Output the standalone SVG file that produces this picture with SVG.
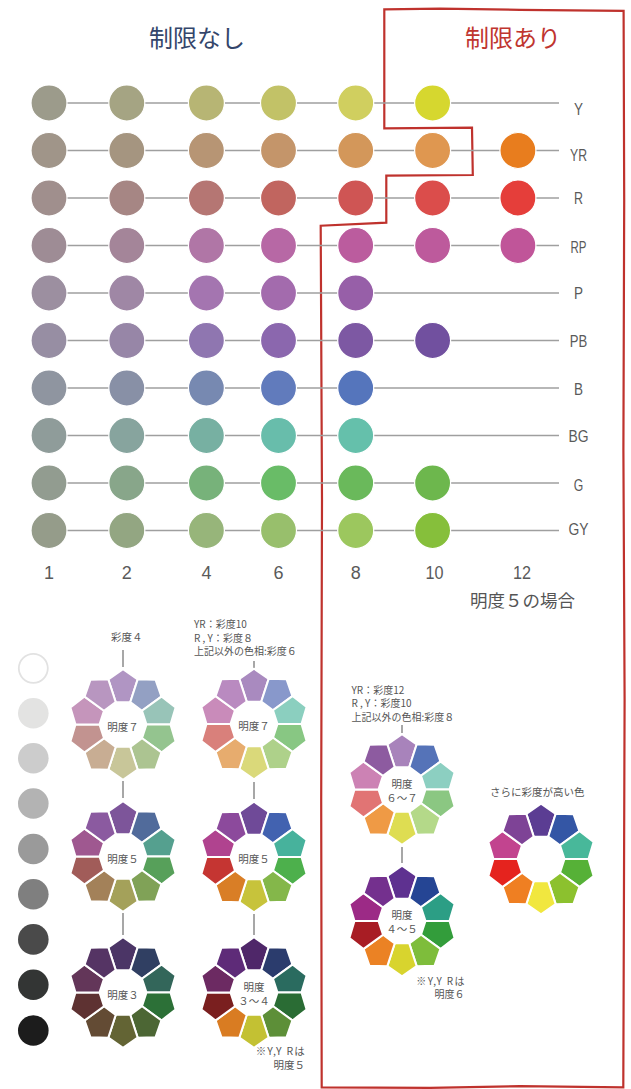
<svg xmlns="http://www.w3.org/2000/svg" width="631" height="1089" viewBox="0 0 631 1089">
<style>
.jp{font-family:"Noto Sans CJK JP","Noto Sans",sans-serif;fill:#555;}
.lat{font-family:"Liberation Sans","Noto Sans",sans-serif;fill:#5a5a5a;}
.row{font-size:17px;text-anchor:middle;}
.num{font-size:18px;text-anchor:middle;}
.sm{font-size:10.5px;}
.lbl{font-size:10.2px;}
.ctr{font-size:10.5px;text-anchor:middle;fill:#555;}
.gl{stroke:#9f9f9f;stroke-width:1.6;fill:none;}
.vl{stroke:#8a8a8a;stroke-width:1.5;fill:none;}
.dot{stroke:#fff;stroke-width:1.2;}
.pc{stroke:#fff;stroke-width:2;stroke-linejoin:miter;}
.gray{stroke:none;}
</style>
<defs>
<polygon id="pc" class="pc" points="0,-55.3 14.68,-45.18 7.26,-22.35 -7.26,-22.35 -14.68,-45.18"/>
</defs>
<rect width="631" height="1089" fill="#fff"/>

<!-- titles -->
<text id="title-none" x="149" y="47" font-family="'Noto Sans CJK JP',sans-serif" font-size="24" fill="#34466b">制限なし</text>
<text id="title-limit" x="465" y="47" font-family="'Noto Sans CJK JP',sans-serif" font-size="24" fill="#c0352f">制限あり</text>

<!-- red border -->
<path id="limit-border" d="M384.3,9.3 L440,8.6 L520,9.8 L623.6,10.8 L624.2,200 L623.4,450 L624.6,700 L623.3,1087.3 L520,1086.2 L430,1087.8 L321.7,1087.3 L321.2,800 L322,500 L320.7,225.7 L386.3,222.7 L386.3,175.7 L472.8,175 L472,127.7 L384.3,128.3 Z" fill="none" stroke="#bf322d" stroke-width="2.2" stroke-linejoin="miter"/>

<!-- connectors -->
<g id="connectors">
<line class="gl" x1="49" y1="103" x2="559" y2="103"/>
<line class="gl" x1="49" y1="150.5" x2="559" y2="150.5"/>
<line class="gl" x1="49" y1="198" x2="559" y2="198"/>
<line class="gl" x1="49" y1="245.5" x2="559" y2="245.5"/>
<line class="gl" x1="49" y1="293" x2="559" y2="293"/>
<line class="gl" x1="49" y1="340.5" x2="559" y2="340.5"/>
<line class="gl" x1="49" y1="388" x2="559" y2="388"/>
<line class="gl" x1="49" y1="435.5" x2="559" y2="435.5"/>
<line class="gl" x1="49" y1="483" x2="559" y2="483"/>
<line class="gl" x1="49" y1="530.5" x2="559" y2="530.5"/>
<line class="vl" x1="123" y1="650" x2="123" y2="667"/>
<line class="vl" x1="123" y1="781" x2="123" y2="798"/>
<line class="vl" x1="123" y1="913" x2="123" y2="935"/>
<line class="vl" x1="254" y1="661" x2="254" y2="668"/>
<line class="vl" x1="254" y1="782" x2="254" y2="799"/>
<line class="vl" x1="254" y1="914" x2="254" y2="935"/>
<line class="vl" x1="402" y1="725" x2="402" y2="733"/>
<line class="vl" x1="402" y1="847" x2="402" y2="863"/>
</g>

<!-- grid circles -->
<g id="row-Y">
<circle class="dot" cx="49" cy="103" r="18" fill="#9c9b8b"/>
<circle class="dot" cx="126.8" cy="103" r="18" fill="#a5a483"/>
<circle class="dot" cx="206.4" cy="103" r="18" fill="#b7b574"/>
<circle class="dot" cx="278.5" cy="103" r="18" fill="#c2c267"/>
<circle class="dot" cx="355.7" cy="103" r="18" fill="#d0cf5f"/>
<circle class="dot" cx="432.6" cy="103" r="18" fill="#d6d72f"/>
</g>
<g id="row-YR">
<circle class="dot" cx="49" cy="150.5" r="18" fill="#a09589"/>
<circle class="dot" cx="126.8" cy="150.5" r="18" fill="#a59580"/>
<circle class="dot" cx="206.4" cy="150.5" r="18" fill="#b79574"/>
<circle class="dot" cx="278.5" cy="150.5" r="18" fill="#c4956a"/>
<circle class="dot" cx="355.7" cy="150.5" r="18" fill="#d3975a"/>
<circle class="dot" cx="432.6" cy="150.5" r="18" fill="#df9750"/>
<circle class="dot" cx="517.9" cy="150.5" r="18" fill="#e87d1e"/>
</g>
<g id="row-R">
<circle class="dot" cx="49" cy="198" r="18" fill="#a08f8d"/>
<circle class="dot" cx="126.8" cy="198" r="18" fill="#a68684"/>
<circle class="dot" cx="206.4" cy="198" r="18" fill="#b57673"/>
<circle class="dot" cx="278.5" cy="198" r="18" fill="#c1655f"/>
<circle class="dot" cx="355.7" cy="198" r="18" fill="#cf5554"/>
<circle class="dot" cx="432.6" cy="198" r="18" fill="#db4d4b"/>
<circle class="dot" cx="517.9" cy="198" r="18" fill="#e53e3a"/>
</g>
<g id="row-RP">
<circle class="dot" cx="49" cy="245.5" r="18" fill="#9e8c95"/>
<circle class="dot" cx="126.8" cy="245.5" r="18" fill="#a48599"/>
<circle class="dot" cx="206.4" cy="245.5" r="18" fill="#b076a6"/>
<circle class="dot" cx="278.5" cy="245.5" r="18" fill="#b768a5"/>
<circle class="dot" cx="355.7" cy="245.5" r="18" fill="#bb5c9e"/>
<circle class="dot" cx="432.6" cy="245.5" r="18" fill="#bd5a9c"/>
<circle class="dot" cx="517.9" cy="245.5" r="18" fill="#c05599"/>
</g>
<g id="row-P">
<circle class="dot" cx="49" cy="293" r="18" fill="#9c8fa0"/>
<circle class="dot" cx="126.8" cy="293" r="18" fill="#9f87a5"/>
<circle class="dot" cx="206.4" cy="293" r="18" fill="#a475b0"/>
<circle class="dot" cx="278.5" cy="293" r="18" fill="#a36bad"/>
<circle class="dot" cx="355.7" cy="293" r="18" fill="#975fa8"/>
</g>
<g id="row-PB">
<circle class="dot" cx="49" cy="340.5" r="18" fill="#978ea3"/>
<circle class="dot" cx="126.8" cy="340.5" r="18" fill="#9786a7"/>
<circle class="dot" cx="206.4" cy="340.5" r="18" fill="#8f76b0"/>
<circle class="dot" cx="278.5" cy="340.5" r="18" fill="#8b67ae"/>
<circle class="dot" cx="355.7" cy="340.5" r="18" fill="#7d58a3"/>
<circle class="dot" cx="432.6" cy="340.5" r="18" fill="#71509f"/>
</g>
<g id="row-B">
<circle class="dot" cx="49" cy="388" r="18" fill="#8f95a0"/>
<circle class="dot" cx="126.8" cy="388" r="18" fill="#8890a6"/>
<circle class="dot" cx="206.4" cy="388" r="18" fill="#7789b1"/>
<circle class="dot" cx="278.5" cy="388" r="18" fill="#617bbc"/>
<circle class="dot" cx="355.7" cy="388" r="18" fill="#5575bc"/>
</g>
<g id="row-BG">
<circle class="dot" cx="49" cy="435.5" r="18" fill="#8f9c9a"/>
<circle class="dot" cx="126.8" cy="435.5" r="18" fill="#87a49e"/>
<circle class="dot" cx="206.4" cy="435.5" r="18" fill="#77b0a2"/>
<circle class="dot" cx="278.5" cy="435.5" r="18" fill="#68bdab"/>
<circle class="dot" cx="355.7" cy="435.5" r="18" fill="#65c0ab"/>
</g>
<g id="row-G">
<circle class="dot" cx="49" cy="483" r="18" fill="#929c90"/>
<circle class="dot" cx="126.8" cy="483" r="18" fill="#88a68a"/>
<circle class="dot" cx="206.4" cy="483" r="18" fill="#77b27a"/>
<circle class="dot" cx="278.5" cy="483" r="18" fill="#69bc67"/>
<circle class="dot" cx="355.7" cy="483" r="18" fill="#6ab95b"/>
<circle class="dot" cx="432.6" cy="483" r="18" fill="#6db74d"/>
</g>
<g id="row-GY">
<circle class="dot" cx="49" cy="530.5" r="18" fill="#959c8a"/>
<circle class="dot" cx="126.8" cy="530.5" r="18" fill="#93a682"/>
<circle class="dot" cx="206.4" cy="530.5" r="18" fill="#97b57a"/>
<circle class="dot" cx="278.5" cy="530.5" r="18" fill="#98bf6c"/>
<circle class="dot" cx="355.7" cy="530.5" r="18" fill="#9cc75e"/>
<circle class="dot" cx="432.6" cy="530.5" r="18" fill="#86bf3b"/>
</g>

<!-- row labels -->
<g id="row-labels">
<text class="lat row" x="578.5" y="115" textLength="9" lengthAdjust="spacingAndGlyphs">Y</text>
<text class="lat row" x="578.5" y="160.5" textLength="17" lengthAdjust="spacingAndGlyphs">YR</text>
<text class="lat row" x="578.5" y="204" textLength="9" lengthAdjust="spacingAndGlyphs">R</text>
<text class="lat row" x="578.5" y="252.5" textLength="16" lengthAdjust="spacingAndGlyphs">RP</text>
<text class="lat row" x="578.5" y="299" textLength="9" lengthAdjust="spacingAndGlyphs">P</text>
<text class="lat row" x="578.5" y="346.5" textLength="17.5" lengthAdjust="spacingAndGlyphs">PB</text>
<text class="lat row" x="578.5" y="394.5" textLength="9" lengthAdjust="spacingAndGlyphs">B</text>
<text class="lat row" x="578.5" y="442" textLength="20" lengthAdjust="spacingAndGlyphs">BG</text>
<text class="lat row" x="578.5" y="490.5" textLength="9.5" lengthAdjust="spacingAndGlyphs">G</text>
<text class="lat row" x="578.5" y="535" textLength="20" lengthAdjust="spacingAndGlyphs">GY</text>
</g>
<g id="chroma-axis">
<text class="lat num" x="49" y="578.5">1</text>
<text class="lat num" x="126.8" y="578.5">2</text>
<text class="lat num" x="206.4" y="578.5">4</text>
<text class="lat num" x="278.5" y="578.5">6</text>
<text class="lat num" x="355.7" y="578.5">8</text>
<text class="lat num" x="434.6" y="578.5" textLength="18" lengthAdjust="spacingAndGlyphs">10</text>
<text class="lat num" x="522" y="578.5" textLength="18" lengthAdjust="spacingAndGlyphs">12</text>
<text class="jp" x="470" y="607" font-size="17.5">明度５の場合</text>
</g>

<!-- gray scale -->
<g id="grayscale">
<circle cx="33.3" cy="668.3" r="14.5" fill="#fff" stroke="#e2e2e2" stroke-width="1.8"/>
<circle class="gray" cx="33.3" cy="713.3" r="15.3" fill="#e3e3e2"/>
<circle class="gray" cx="33.3" cy="758.3" r="15.3" fill="#cccccc"/>
<circle class="gray" cx="33.3" cy="803.5" r="15.3" fill="#b3b3b3"/>
<circle class="gray" cx="33.3" cy="849" r="15.3" fill="#9a9a9a"/>
<circle class="gray" cx="33.3" cy="894.2" r="15.3" fill="#7f7f7f"/>
<circle class="gray" cx="33.3" cy="939.4" r="15.3" fill="#4a4a4a"/>
<circle class="gray" cx="33.3" cy="984.7" r="15.3" fill="#333534"/>
<circle class="gray" cx="33.3" cy="1030.5" r="15.3" fill="#1c1c1c"/>
</g>

<!-- annotations -->
<text class="jp sm" x="111" y="641">彩度４</text>
<text class="jp" font-size="10" y="628"><tspan x="194">YR：彩度10</tspan><tspan x="194" dy="13.6">R , Y：彩度８</tspan><tspan x="194" dy="13.6">上記以外の色相:彩度６</tspan></text>
<text class="jp" font-size="10" y="693.5"><tspan x="351.5">YR：彩度12</tspan><tspan x="351.5" dy="13.6">R , Y：彩度10</tspan><tspan x="351.5" dy="13.6">上記以外の色相:彩度８</tspan></text>
<text class="jp sm" x="490" y="796">さらに彩度が高い色</text>
<text class="jp sm" y="1055" text-anchor="end"><tspan x="306" letter-spacing="1.2">※Y,Y Rは</tspan><tspan x="305" dy="13.6">明度５</tspan></text>
<text class="jp" font-size="10" y="984.5" text-anchor="end"><tspan x="466" letter-spacing="1.4">※Y,Y Rは</tspan><tspan x="464.5" dy="13.6">明度６</tspan></text>

<!-- wheels: order PB,B,BG,G,GY,Y,YR,R,RP,P clockwise from top -->
<g id="wheel-v7-c4" transform="translate(123,724.5)">
<use href="#pc" fill="#b095c3"/>
<use href="#pc" transform="rotate(36)" fill="#93a0c3"/>
<use href="#pc" transform="rotate(72)" fill="#98c4b8"/>
<use href="#pc" transform="rotate(108)" fill="#94c48f"/>
<use href="#pc" transform="rotate(144)" fill="#acc491"/>
<use href="#pc" transform="rotate(180)" fill="#c8c699"/>
<use href="#pc" transform="rotate(216)" fill="#c8ad93"/>
<use href="#pc" transform="rotate(252)" fill="#c29390"/>
<use href="#pc" transform="rotate(288)" fill="#c595bb"/>
<use href="#pc" transform="rotate(324)" fill="#b896c0"/>
<text class="jp ctr" x="0" y="6">明度７</text>
</g>
<g id="wheel-v7-c6" transform="translate(254,724)">
<use href="#pc" fill="#a98abf"/>
<use href="#pc" transform="rotate(36)" fill="#8898cb"/>
<use href="#pc" transform="rotate(72)" fill="#8bcfbf"/>
<use href="#pc" transform="rotate(108)" fill="#88c783"/>
<use href="#pc" transform="rotate(144)" fill="#aed18a"/>
<use href="#pc" transform="rotate(180)" fill="#dad97a"/>
<use href="#pc" transform="rotate(216)" fill="#e7ac6e"/>
<use href="#pc" transform="rotate(252)" fill="#d9807b"/>
<use href="#pc" transform="rotate(288)" fill="#c98bba"/>
<use href="#pc" transform="rotate(324)" fill="#b98ac0"/>
<text class="jp ctr" x="0" y="6">明度７</text>
</g>
<g id="wheel-v5-c4" transform="translate(123,856.5)">
<use href="#pc" fill="#7d559a"/>
<use href="#pc" transform="rotate(36)" fill="#516b9b"/>
<use href="#pc" transform="rotate(72)" fill="#55a08f"/>
<use href="#pc" transform="rotate(108)" fill="#57a05a"/>
<use href="#pc" transform="rotate(144)" fill="#80a257"/>
<use href="#pc" transform="rotate(180)" fill="#a4a15a"/>
<use href="#pc" transform="rotate(216)" fill="#a38159"/>
<use href="#pc" transform="rotate(252)" fill="#a15c59"/>
<use href="#pc" transform="rotate(288)" fill="#9f5890"/>
<use href="#pc" transform="rotate(324)" fill="#8b5aa0"/>
<text class="jp ctr" x="0" y="6">明度５</text>
</g>
<g id="wheel-v5-c6" transform="translate(254,857)">
<use href="#pc" fill="#6f4a98"/>
<use href="#pc" transform="rotate(36)" fill="#4262b0"/>
<use href="#pc" transform="rotate(72)" fill="#47b29c"/>
<use href="#pc" transform="rotate(108)" fill="#4db04c"/>
<use href="#pc" transform="rotate(144)" fill="#84b74a"/>
<use href="#pc" transform="rotate(180)" fill="#c7c33b"/>
<use href="#pc" transform="rotate(216)" fill="#d97e26"/>
<use href="#pc" transform="rotate(252)" fill="#c53532"/>
<use href="#pc" transform="rotate(288)" fill="#b0438f"/>
<use href="#pc" transform="rotate(324)" fill="#8c4a9c"/>
<text class="jp ctr" x="0" y="6">明度５</text>
</g>
<g id="wheel-v3-c4" transform="translate(123,992.5)">
<use href="#pc" fill="#4b3566"/>
<use href="#pc" transform="rotate(36)" fill="#303f62"/>
<use href="#pc" transform="rotate(72)" fill="#33665a"/>
<use href="#pc" transform="rotate(108)" fill="#2c7037"/>
<use href="#pc" transform="rotate(144)" fill="#4c6634"/>
<use href="#pc" transform="rotate(180)" fill="#636434"/>
<use href="#pc" transform="rotate(216)" fill="#634b34"/>
<use href="#pc" transform="rotate(252)" fill="#5e3232"/>
<use href="#pc" transform="rotate(288)" fill="#633659"/>
<use href="#pc" transform="rotate(324)" fill="#553464"/>
<text class="jp ctr" x="0" y="6">明度３</text>
</g>
<g id="wheel-v34-c6" transform="translate(254,992.5)">
<use href="#pc" fill="#4f2769"/>
<use href="#pc" transform="rotate(36)" fill="#2b3c6d"/>
<use href="#pc" transform="rotate(72)" fill="#2a6b5f"/>
<use href="#pc" transform="rotate(108)" fill="#2a6c34"/>
<use href="#pc" transform="rotate(144)" fill="#5d8f38"/>
<use href="#pc" transform="rotate(180)" fill="#c3c133"/>
<use href="#pc" transform="rotate(216)" fill="#d97c22"/>
<use href="#pc" transform="rotate(252)" fill="#7a1f1f"/>
<use href="#pc" transform="rotate(288)" fill="#6c2a62"/>
<use href="#pc" transform="rotate(324)" fill="#5e2b78"/>
<text class="jp ctr" y="-2"><tspan x="0">明度</tspan><tspan x="0" dy="14">３～４</tspan></text>
</g>
<g id="wheel-v67-c8" transform="translate(402,789.5)">
<use href="#pc" fill="#a883bb"/>
<use href="#pc" transform="rotate(36)" fill="#5573b8"/>
<use href="#pc" transform="rotate(72)" fill="#8ccfc1"/>
<use href="#pc" transform="rotate(108)" fill="#8bc782"/>
<use href="#pc" transform="rotate(144)" fill="#b4d989"/>
<use href="#pc" transform="rotate(180)" fill="#dedd52"/>
<use href="#pc" transform="rotate(216)" fill="#ef9a45"/>
<use href="#pc" transform="rotate(252)" fill="#e17474"/>
<use href="#pc" transform="rotate(288)" fill="#cc82b4"/>
<use href="#pc" transform="rotate(324)" fill="#8d5ba0"/>
<text class="jp ctr" y="-2"><tspan x="0">明度</tspan><tspan x="0" dy="14">６～７</tspan></text>
</g>
<g id="wheel-v45-c8" transform="translate(402,921)">
<use href="#pc" fill="#5e3190"/>
<use href="#pc" transform="rotate(36)" fill="#254594"/>
<use href="#pc" transform="rotate(72)" fill="#2c9e85"/>
<use href="#pc" transform="rotate(108)" fill="#339d3b"/>
<use href="#pc" transform="rotate(144)" fill="#7ebd3b"/>
<use href="#pc" transform="rotate(180)" fill="#d8d42e"/>
<use href="#pc" transform="rotate(216)" fill="#eb8224"/>
<use href="#pc" transform="rotate(252)" fill="#a81d24"/>
<use href="#pc" transform="rotate(288)" fill="#9c2a86"/>
<use href="#pc" transform="rotate(324)" fill="#74308e"/>
<text class="jp ctr" y="-2"><tspan x="0">明度</tspan><tspan x="0" dy="14">４～５</tspan></text>
</g>
<g id="wheel-high" transform="translate(541,859)">
<use href="#pc" fill="#5b3d93"/>
<use href="#pc" transform="rotate(36)" fill="#3456a5"/>
<use href="#pc" transform="rotate(72)" fill="#48b89a"/>
<use href="#pc" transform="rotate(108)" fill="#56b137"/>
<use href="#pc" transform="rotate(144)" fill="#8cc12e"/>
<use href="#pc" transform="rotate(180)" fill="#f1e73f"/>
<use href="#pc" transform="rotate(216)" fill="#ef7f22"/>
<use href="#pc" transform="rotate(252)" fill="#e5231e"/>
<use href="#pc" transform="rotate(288)" fill="#c2448f"/>
<use href="#pc" transform="rotate(324)" fill="#7e4396"/>
</g>
</svg>
